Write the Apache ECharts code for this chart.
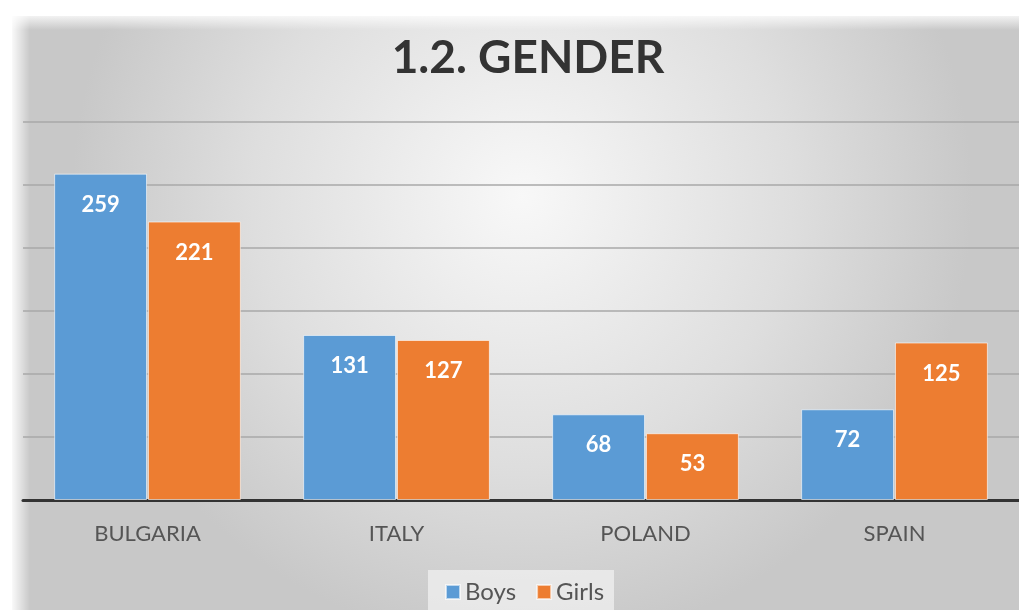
<!DOCTYPE html>
<html><head><meta charset="utf-8">
<script src="https://cdn.jsdelivr.net/npm/echarts@6/dist/echarts.min.js"></script>
<style>html,body{margin:0;padding:0;background:#fff}#c{width:1019px;height:610px}</style>
</head><body><div id="c"></div>
<script>
const categories = ['BULGARIA', 'ITALY', 'POLAND', 'SPAIN'];
const boys = [259, 131, 68, 72];
const girls = [221, 127, 53, 125];
const seriesNames = ['Boys', 'Girls'];

const FONT = 'Lato';
const chart = echarts.init(document.getElementById('c'));
const labelStyle = {show: true, position: 'insideTop', distance: 20, color: '#fff', fontSize: 22, fontWeight: 'bold', fontFamily: FONT};
chart.setOption({
  backgroundColor: '#fff',
  graphic: [
    {type: 'rect', z: -10, silent: true, shape: {x: 12, y: 16, width: 1020, height: 600},
     style: {fill: {type: 'radial', x: 0.5, y: 0.3, r: 0.75, colorStops: [
       {offset: 0, color: '#f8f8f8'}, {offset: 0.6, color: '#dedede'}, {offset: 1, color: '#c8c8c8'}]}}},
    {type: 'rect', z: -9, silent: true, shape: {x: 0, y: 0, width: 30, height: 610},
     style: {fill: {type: 'linear', x: 0, y: 0, x2: 1, y2: 0, colorStops: [
       {offset: 0, color: 'rgba(255,255,255,1)'}, {offset: 0.4, color: 'rgba(255,255,255,0.9)'}, {offset: 1, color: 'rgba(255,255,255,0)'}]}}},
    {type: 'rect', z: -9, silent: true, shape: {x: 0, y: 0, width: 1019, height: 30},
     style: {fill: {type: 'linear', x: 0, y: 0, x2: 0, y2: 1, colorStops: [
       {offset: 0, color: 'rgba(255,255,255,1)'}, {offset: 0.45, color: 'rgba(255,255,255,0.9)'}, {offset: 1, color: 'rgba(255,255,255,0)'}]}}},
    {type: 'rect', z: -8, silent: true, shape: {x: 428, y: 570, width: 186, height: 40},
     style: {fill: 'rgba(240,240,240,0.75)'}}
  ],
  title: {text: '1.2. GENDER', left: 523, top: 30, textAlign: 'center',
    textStyle: {fontSize: 46, fontWeight: 'bold', color: '#333', fontFamily: FONT}},
  legend: {data: seriesNames, bottom: 1, left: 440, icon: 'rect', itemWidth: 14, itemHeight: 14, itemGap: 20,
    textStyle: {fontSize: 24, color: '#555', fontFamily: FONT}},
  grid: {left: 23, right: -4, top: 122, bottom: 110, containLabel: false},
  xAxis: {type: 'category', data: categories,
    axisLine: {lineStyle: {color: '#333', width: 3}}, axisTick: {show: false},
    axisLabel: {fontSize: 22, color: '#555', margin: 23, fontFamily: FONT}},
  yAxis: {type: 'value', min: 0, max: 300, interval: 50,
    axisLabel: {show: false}, axisLine: {show: false}, axisTick: {show: false},
    splitLine: {lineStyle: {color: '#a8a8a8', width: 1.5}}},
  series: [
    {name: seriesNames[0], type: 'bar', data: boys, barGap: '1%', barCategoryGap: '25%',
     itemStyle: {color: '#5B9BD5', borderColor: 'rgba(255,255,255,0.6)', borderWidth: 1}, label: labelStyle},
    {name: seriesNames[1], type: 'bar', data: girls,
     itemStyle: {color: '#ED7D31', borderColor: 'rgba(255,255,255,0.6)', borderWidth: 1}, label: labelStyle}
  ]
});
</script></body></html>
